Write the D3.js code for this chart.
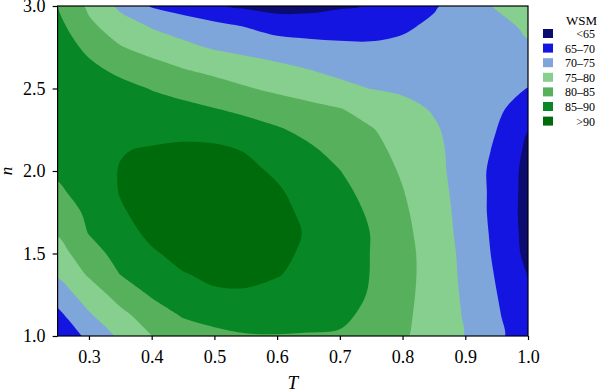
<!DOCTYPE html>
<html>
<meta charset="utf-8">
<script src="https://d3js.org/d3.v7.min.js"></script>
<style>
  body { margin: 0; background: #fff; }
  svg text { font-family: "Liberation Serif", "Times New Roman", serif; fill: #000; }
</style>
<body>
<div id="my_dataviz"></div>
<script>

// grid: columns = T, rows = n (top row first)
var tValues = [0.25, 0.30, 0.35, 0.40, 0.45, 0.50, 0.55, 0.60, 0.65, 0.70, 0.75, 0.80, 0.85, 0.90, 0.95, 1.00];
var nValues = [3.0, 2.875, 2.75, 2.625, 2.5, 2.375, 2.25, 2.125, 2.0, 1.875, 1.75, 1.625, 1.5, 1.375, 1.25, 1.125, 1.0];

var wsm = [
  [85.0, 79.0, 73.9, 69.6, 67.6, 65.5, 64.2, 63.2, 63.4, 64.5, 65.2, 67.4, 69.5, 72.3, 75.4, 77.5],
  [86.5, 81.1, 77.5, 74.7, 73.1, 71.5, 69.9, 68.0, 67.9, 67.8, 68.0, 69.3, 70.9, 72.4, 73.5, 75.8],
  [87.3, 84.0, 80.3, 78.1, 76.1, 74.5, 73.4, 72.5, 71.5, 71.0, 70.8, 71.1, 71.8, 72.6, 73.3, 74.4],
  [87.5, 85.9, 83.8, 81.8, 79.9, 78.6, 77.3, 76.0, 74.8, 73.6, 72.8, 72.7, 72.7, 72.6, 72.4, 72.2],
  [87.6, 87.0, 86.3, 84.8, 83.35, 81.9, 80.4, 79.0, 77.6, 76.2, 74.9, 74.2, 73.7, 72.8, 71.5, 69.9],
  [87.6, 87.7, 87.5, 87.0, 86.3, 85.2, 84.0, 82.7, 81.5, 80.2, 78.4, 76.5, 74.6, 72.6, 71.0, 67.2],
  [87.3, 88.0, 88.3, 88.6, 88.6, 88.2, 86.9, 85.5, 83.8, 82.1, 80.3, 78.0, 75.6, 72.8, 70.0, 65.1],
  [86.7, 88.3, 89.8, 90.4, 91.0, 90.9, 89.8, 87.8, 85.8, 83.6, 81.3, 78.8, 76.1, 73.0, 69.3, 64.0],
  [85.8, 88.0, 90.2, 91.3, 91.8, 91.8, 91.0, 89.4, 87.2, 85.1, 82.3, 79.5, 76.4, 72.9, 68.6, 63.5],
  [84.1, 87.3, 90.2, 91.5, 92.1, 92.2, 91.7, 90.5, 88.4, 86.2, 83.5, 80.2, 76.8, 73.1, 68.6, 63.4],
  [82.3, 85.9, 89.6, 91.4, 92.2, 92.4, 92.0, 91.0, 89.2, 86.9, 84.4, 80.8, 77.2, 73.3, 68.5, 63.3],
  [80.4, 85.2, 88.4, 90.9, 91.9, 92.3, 92.0, 91.1, 89.7, 87.3, 84.9, 81.3, 77.5, 73.5, 68.8, 63.4],
  [78.0, 83.0, 86.7, 89.5, 91.2, 91.9, 91.6, 90.8, 89.4, 87.2, 84.9, 81.6, 77.9, 73.8, 69.1, 63.7],
  [75.6, 80.6, 85.1, 87.5, 89.8, 90.7, 90.8, 90.3, 88.5, 86.7, 84.9, 81.6, 78.0, 74.0, 69.6, 64.8],
  [72.2, 77.4, 81.8, 85.5, 87.6, 89.5, 89.6, 88.5, 87.0, 86.0, 84.8, 81.4, 77.9, 74.3, 70.1, 65.7],
  [68.7, 74.4, 78.7, 82.3, 85.4, 86.6, 87.0, 86.6, 86.0, 85.6, 84.3, 81.0, 77.9, 74.6, 70.6, 66.4],
  [66.0, 71.2, 75.9, 79.9, 82.3, 83.8, 84.7, 84.85, 84.8, 84.7, 83.0, 80.6, 77.8, 74.8, 71.1, 67.0]
];

var thresholds = [65, 70, 75, 80, 85, 90];
var bandLabels = ["<65", "65\u201370", "70\u201375", "75\u201380", "80\u201385", "85\u201390", ">90"];
var bandColors = ["#0b0b70", "#1515e2", "#7fa6da", "#86cf8e", "#57b05b", "#088726", "#006b0a"];
var xTicks = [0.3, 0.4, 0.5, 0.6, 0.7, 0.8, 0.9, 1.0];
var yTicks = [1.0, 1.5, 2.0, 2.5, 3.0];

var margin = {top: 6, right: 72, bottom: 56, left: 57.6},
    width = 600 - margin.left - margin.right,
    height = 392 - margin.top - margin.bottom;

var svg = d3.select("#my_dataviz")
  .append("svg")
    .attr("width", 600)
    .attr("height", 392)
  .append("g")
    .attr("transform", "translate(" + margin.left + "," + margin.top + ")");

var x = d3.scaleLinear().domain([0.25, 1.0]).range([0, width]);
var y = d3.scaleLinear().domain([1.0, 3.0]).range([height, 0]);

// grid index -> data value
var gx = d3.scaleLinear().domain([0, tValues.length - 1]).range([tValues[0], tValues[tValues.length - 1]]);
var gy = d3.scaleLinear().domain([0, nValues.length - 1]).range([nValues[0], nValues[nValues.length - 1]]);

svg.append("clipPath").attr("id", "plotclip")
  .append("rect").attr("width", width).attr("height", height);

var plot = svg.append("g").attr("clip-path", "url(#plotclip)");

plot.append("rect")
  .attr("width", width)
  .attr("height", height)
  .attr("fill", bandColors[0]);

var contours = d3.contours()
  .size([tValues.length, nValues.length])
  .thresholds(thresholds)(wsm.flat());

// smooth each ring through its points
var ringLine = d3.line()
  .x(function(p) { return x(gx(p[0] - 0.5)); })
  .y(function(p) { return y(gy(p[1] - 0.5)); })
  .curve(d3.curveCatmullRomClosed.alpha(0.5));

function bandPath(mp) {
  var d = "";
  mp.coordinates.forEach(function(poly) {
    poly.forEach(function(ring) {
      d += ringLine(ring.slice(0, -1));
    });
  });
  return d;
}

plot.selectAll("path.band")
  .data(contours)
  .enter().append("path")
    .attr("class", "band")
    .attr("d", bandPath)
    .attr("fill", function(d, i) { return bandColors[i + 1]; });

// axes
var xAxis = svg.append("g")
  .attr("transform", "translate(0," + height + ")")
  .call(d3.axisBottom(x).tickValues(xTicks).tickFormat(d3.format(".1f")).tickSize(4).tickPadding(10));
var yAxis = svg.append("g")
  .call(d3.axisLeft(y).tickValues(yTicks).tickFormat(d3.format(".1f")).tickSize(5).tickPadding(7));

[xAxis, yAxis].forEach(function(a) {
  a.attr("font-size", 18);
  a.select(".domain").remove();
  a.selectAll(".tick line").attr("stroke", "#000").attr("stroke-width", 1.2);
});

svg.append("rect")
  .attr("width", width)
  .attr("height", height)
  .attr("fill", "none")
  .attr("stroke", "#000")
  .attr("stroke-width", 1.2);

svg.append("text")
  .attr("x", width / 2)
  .attr("y", height + 52.5)
  .attr("text-anchor", "middle")
  .style("font-size", "19px")
  .style("font-style", "italic")
  .text("T");

svg.append("text")
  .attr("transform", "rotate(-90)")
  .attr("x", -(y(2.0)))
  .attr("y", -margin.left + 11.5)
  .attr("text-anchor", "middle")
  .style("font-size", "17px")
  .style("font-style", "italic")
  .text("n");

// legend
var legend = d3.select("svg").append("g");

legend.append("text")
  .attr("x", 597)
  .attr("y", 25)
  .attr("text-anchor", "end")
  .style("font-size", "13px")
  .text("WSM");

var items = legend.selectAll("g.item")
  .data(bandLabels)
  .enter().append("g")
    .attr("class", "item")
    .attr("transform", function(d, i) { return "translate(0," + (33.5 + i * 14.6) + ")"; });

items.append("rect")
  .attr("x", 543)
  .attr("y", -4.5)
  .attr("width", 10)
  .attr("height", 9)
  .attr("fill", function(d, i) { return bandColors[i]; });

items.append("text")
  .attr("x", 595)
  .attr("y", 4.5)
  .attr("text-anchor", "end")
  .style("font-size", "12px")
  .text(function(d) { return d; });

</script>
</body>
</html>
